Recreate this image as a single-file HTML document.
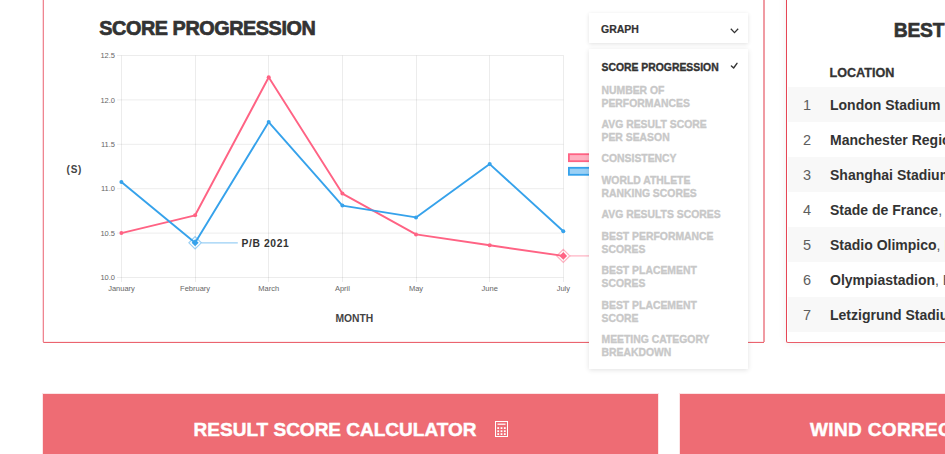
<!DOCTYPE html>
<html><head><meta charset="utf-8">
<style>
*{box-sizing:border-box;margin:0;padding:0}
html,body{width:945px;height:454px;overflow:hidden;background:#fff}
body{position:relative;font-family:"Liberation Sans",Arial,sans-serif;color:#333}
.card{position:absolute;border-radius:2px;background:#fff}
#c1{left:42px;top:-20px;width:724px;height:363px}
#c2{left:786px;top:-20px;width:200px;height:363px;border:1px solid #e64655;border-bottom-color:#ea5d69;box-shadow:0 0 8px rgba(0,0,0,0.07)}
.ln{position:absolute}
#title{position:absolute;left:99.3px;top:17.1px;font-size:19.8px;font-weight:bold;line-height:22px;color:#333;white-space:nowrap;-webkit-text-stroke:0.7px #333;letter-spacing:-0.42px}
#chart{position:absolute;left:0;top:0}
#sel{position:absolute;left:588.5px;top:12.5px;width:159.5px;height:30.5px;background:#fff;box-shadow:0 1px 4px rgba(0,0,0,0.12)}
#sel span{position:absolute;left:12.5px;top:9px;font-size:10.5px;font-weight:bold;line-height:14px;color:#333;-webkit-text-stroke:0.2px #333}
#sel svg{position:absolute;left:141px;top:15px}
#menu{position:absolute;left:589px;top:48.6px;width:159px;height:320.4px;background:#fff;box-shadow:0 1px 5px rgba(0,0,0,0.12);padding-top:9px}
#menu div{padding:4.3px 12.5px;font-size:10.4px;font-weight:bold;line-height:12.9px;color:#c8c8c8;position:relative;-webkit-text-stroke:0.35px #c8c8c8}
#menu div.act{-webkit-text-stroke:0.35px #333}
#menu div.act{padding-bottom:5.5px}
#menu div.act{color:#333}
#best{position:absolute;left:893.8px;top:20.3px;letter-spacing:-0.25px;font-size:19.3px;font-weight:bold;line-height:22px;white-space:nowrap;-webkit-text-stroke:0.6px #333}
#loc{position:absolute;left:829.5px;top:65px;font-size:12.6px;font-weight:bold;line-height:16px;white-space:nowrap;-webkit-text-stroke:0.3px #333}
.row{position:absolute;left:788px;width:200px;height:35px;white-space:nowrap}
.row.g{background:#f8f8f8}
.row .n{position:absolute;left:9px;width:20px;text-align:center;top:10.4px;font-size:14.5px;line-height:17px;color:#5e5e5e}
.row .t{position:absolute;left:42px;top:10.5px;font-size:14px;line-height:17px;font-weight:bold;color:#333}
.row .t span{font-weight:normal;color:#555}
.btn{position:absolute;top:394px;height:80px;background:#ee6c74;color:#fff;font-weight:bold;font-size:19px;white-space:nowrap;-webkit-text-stroke:0.45px #fff;box-shadow:0 0 0 1px rgba(238,108,116,0.18)}
#b1{left:43px;width:615px}
#b2{left:680px;width:300px}
.btn span{position:absolute;top:26px;line-height:20px}
</style></head><body>
<div class="card" id="c1"></div>
<div class="ln" style="left:42px;top:0;width:1px;height:342px;background:#fad9dd"></div>
<div class="ln" style="left:43px;top:0;width:1px;height:342px;background:#ef8591"></div>
<div class="ln" style="left:44px;top:341px;width:719px;height:1px;background:#fcecee"></div>
<div class="ln" style="left:43px;top:342px;width:721px;height:1px;background:#eb646f;border-radius:0 0 0 1px"></div>
<div class="ln" style="left:763px;top:0;width:2px;height:342px;background:#f09ba3"></div>
<div class="card" id="c2"></div>
<div id="title">SCORE PROGRESSION</div>

<svg id="chart" width="945" height="454" viewBox="0 0 945 454">
<g stroke="rgba(0,0,0,0.075)" stroke-width="1" fill="none">
<path d="M117 55.5H563.5M117 99.9H563.5M117 144.3H563.5M117 188.7H563.5M117 233.1H563.5M117 277.5H563.5"/>
<path d="M121.5 55.5V282M195.5 55.5V282M268.5 55.5V282M342.5 55.5V282M416.5 55.5V282M489.5 55.5V282M563.5 55.5V282"/>
</g>
<g font-family="Liberation Sans, Arial, sans-serif" font-size="7.5" fill="#666" text-anchor="end">
<text x="115" y="58.25">12.5</text><text x="115" y="102.65">12.0</text><text x="115" y="147.05">11.5</text><text x="115" y="191.45">11.0</text><text x="115" y="235.85">10.5</text><text x="115" y="280.25">10.0</text>
</g>
<g font-family="Liberation Sans, Arial, sans-serif" font-size="7.5" fill="#666" text-anchor="middle">
<text x="121.5" y="291">January</text><text x="195.1" y="291">February</text><text x="268.7" y="291">March</text><text x="342.4" y="291">April</text><text x="416" y="291">May</text><text x="489.7" y="291">June</text><text x="563.3" y="291">July</text>
</g>
<text x="66.5" y="173" font-family="Liberation Sans, Arial, sans-serif" font-size="10" font-weight="bold" fill="#444" letter-spacing="0.8">(S)</text>
<text x="335.5" y="321.6" font-family="Liberation Sans, Arial, sans-serif" font-size="10.3" font-weight="bold" fill="#444">MONTH</text>
<!-- legend boxes -->
<rect x="568.9" y="154.2" width="24" height="7" fill="rgba(255,99,132,0.5)" stroke="rgb(255,99,132)" stroke-width="1.8"/>
<rect x="568.9" y="167.8" width="24" height="7" fill="rgba(54,162,235,0.5)" stroke="rgb(54,162,235)" stroke-width="1.8"/>
<!-- annotation lines -->
<path d="M201.6 242.8H237.8" stroke="rgba(54,162,235,0.5)" stroke-width="1.2"/>
<path d="M570 255.9H600" stroke="rgba(255,99,132,0.5)" stroke-width="1.2"/>
<!-- data lines -->
<path d="M195.1 236.6L201.3 242.8L195.1 249L188.9 242.8Z" fill="none" stroke="rgba(54,162,235,0.5)" stroke-width="1.2"/>
<path d="M563.3 249.4L569.8 255.9L563.3 262.4L556.8 255.9Z" fill="none" stroke="rgba(255,99,132,0.5)" stroke-width="1.2"/>

<polyline fill="none" stroke="rgb(255,99,132)" stroke-width="1.9" stroke-linejoin="round" points="121.4,233.1 195.1,215.3 268.7,77.3 342.4,193.6 416,234.4 489.7,245.3 563.3,255.9"/>
<polyline fill="none" stroke="rgb(54,162,235)" stroke-width="1.9" stroke-linejoin="round" points="121.4,182 195.1,242.8 268.7,122.1 342.4,205.6 416,217.4 489.7,164.1 563.3,231.3"/>
<g fill="rgb(255,99,132)">
<circle cx="121.4" cy="233.1" r="2"/><circle cx="195.1" cy="215.3" r="2"/><circle cx="268.7" cy="77.3" r="2"/><circle cx="342.4" cy="193.6" r="2"/><circle cx="416" cy="234.4" r="2"/><circle cx="489.7" cy="245.3" r="2"/>
</g>
<g fill="rgb(54,162,235)">
<circle cx="121.4" cy="182" r="2"/><circle cx="268.7" cy="122.1" r="2"/><circle cx="342.4" cy="205.6" r="2"/><circle cx="416" cy="217.4" r="2"/><circle cx="489.7" cy="164.1" r="2"/><circle cx="563.3" cy="231.3" r="2"/>
</g>
<!-- diamonds -->
<path d="M195.1 239.3L198.6 242.8L195.1 246.3L191.6 242.8Z" fill="rgb(54,162,235)"/>
<path d="M563.3 252.1L567.1 255.9L563.3 259.7L559.5 255.9Z" fill="rgb(255,99,132)"/>
<text x="241.6" y="246.5" font-family="Liberation Sans, Arial, sans-serif" font-size="10.3" font-weight="bold" fill="#333" letter-spacing="0.6">P/B 2021</text>
</svg>

<div id="sel"><span>GRAPH</span><svg width="9" height="6" viewBox="0 0 9 6"><path d="M0.8 0.8L4.5 4.6L8.2 0.8" fill="none" stroke="#333" stroke-width="1.3"/></svg></div>
<div id="menu">
<div class="act">SCORE PROGRESSION</div>
<div>NUMBER OF<br>PERFORMANCES</div>
<div>AVG RESULT SCORE<br>PER SEASON</div>
<div>CONSISTENCY</div>
<div>WORLD ATHLETE<br>RANKING SCORES</div>
<div>AVG RESULTS SCORES</div>
<div>BEST PERFORMANCE<br>SCORES</div>
<div>BEST PLACEMENT<br>SCORES</div>
<div>BEST PLACEMENT<br>SCORE</div>
<div>MEETING CATEGORY<br>BREAKDOWN</div>
</div>

<div id="best">BEST PERFORMANCES</div>
<div id="loc">LOCATION</div>
<div class="row g" style="top:86.8px"><span class="n">1</span><span class="t">London Stadium<span style="margin-left:6px">, London</span></span></div>
<div class="row" style="top:121.8px"><span class="n">2</span><span class="t">Manchester Regional Arena<span>, Manchester</span></span></div>
<div class="row g" style="top:156.8px"><span class="n">3</span><span class="t">Shanghai Stadium<span>, Shanghai</span></span></div>
<div class="row" style="top:191.8px"><span class="n">4</span><span class="t">Stade de France<span>, Paris</span></span></div>
<div class="row g" style="top:226.8px"><span class="n">5</span><span class="t">Stadio Olimpico<span>, Rome</span></span></div>
<div class="row" style="top:261.8px"><span class="n">6</span><span class="t">Olympiastadion<span>, Berlin</span></span></div>
<div class="row g" style="top:296.8px"><span class="n">7</span><span class="t">Letzigrund Stadium<span>, Zurich</span></span></div>

<div class="btn" id="b1"><span style="left:150.6px">RESULT SCORE CALCULATOR</span>
<svg style="position:absolute;left:452px;top:27px" width="13" height="16" viewBox="0 0 13 16"><rect x="0.5" y="0.5" width="12" height="15" fill="none" stroke="#fff" stroke-width="1"/><rect x="2.5" y="2.6" width="8" height="1.2" fill="#fff"/><g fill="#fff"><rect x="2.3" y="6.2" width="1.8" height="1.8"/><rect x="5.6" y="6.2" width="1.8" height="1.8"/><rect x="8.9" y="6.2" width="1.8" height="1.8"/><rect x="2.3" y="9.3" width="1.8" height="1.8"/><rect x="5.6" y="9.3" width="1.8" height="1.8"/><rect x="8.9" y="9.3" width="1.8" height="1.8"/><rect x="2.3" y="12.2" width="1.8" height="1.8"/><rect x="5.6" y="12.2" width="1.8" height="1.8"/><rect x="8.9" y="12.2" width="1.8" height="1.8"/></g></svg>
</div>
<div class="btn" id="b2"><span style="left:130px;letter-spacing:0.35px">WIND CORRECTION</span></div>
<svg style="position:absolute;left:729px;top:61px" width="10" height="10" viewBox="0 0 10 10"><path d="M2.4 5L4.6 7L8 2.3" fill="none" stroke="#333" stroke-width="1.4" stroke-linecap="round" stroke-linejoin="round"/></svg>
</body></html>
